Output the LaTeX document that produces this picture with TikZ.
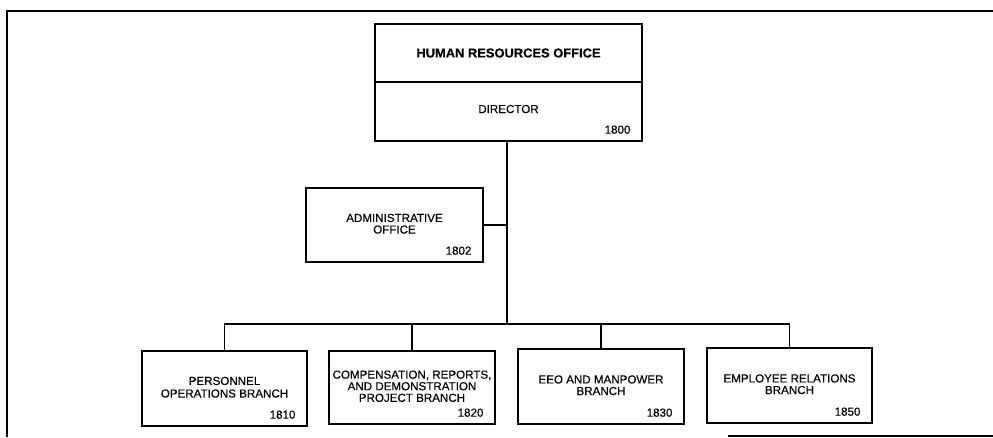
\documentclass[tikz,border=0pt]{standalone}
\usepackage{fontspec}
\setmainfont{Liberation Sans}[FakeBold=0.35]
\newfontfamily\lblfont{Liberation Sans}[AutoFakeBold=0.35,UprightFeatures={FakeBold=0.35}]
\begin{document}
\begin{tikzpicture}[x=1pt,y=-1pt,
  box/.style={draw,line width=1.3pt,rectangle,inner sep=0pt,align=center,
    font=\fontsize{11.6}{13.6}\selectfont},
  num/.style={anchor=base east,inner sep=0pt,font=\fontsize{11.6}{13.6}\selectfont,
    xshift=-12pt,yshift=8pt},
  conn/.style={line width=1.3pt},
  frame/.style={line width=2.6pt}]
\useasboundingbox (0,0) rectangle (993,437);
% frame
\draw[frame] (7,437) -- (7,11) -- (994,11);
\draw[frame] (728,436) -- (994,436);
% top boxes
\node[box,minimum width=267pt,minimum height=58pt,font=\bfseries\fontsize{12.9}{14}\selectfont] (hro) at (508.5,53) {HUMAN RESOURCES OFFICE};
\node[box,minimum width=267pt,minimum height=59pt] (dir) at (508.5,111.5) {\raisebox{5pt}{DIRECTOR}};
\node[num] (n1800) at (dir.south east) {1800};
% admin
\node[box,minimum width=177pt,minimum height=74pt] (adm) at (394.5,225) {\raisebox{4pt}{\begin{tabular}{@{}c@{}}ADMINISTRATIVE\\[-2pt]OFFICE\end{tabular}}};
\node[num] (n1802) at (adm.south east) {1802};
% branches
\node[box,minimum width=165pt,minimum height=75pt] (b1) at (224.5,388.5) {\raisebox{4pt}{\begin{tabular}{@{}c@{}}PERSONNEL\\[-1pt]OPERATIONS BRANCH\end{tabular}}};
\node[num] (n1810) at (b1.south east) {1810};
\node[box,minimum width=166pt,minimum height=73pt] (b2) at (412,387.5) {\raisebox{5pt}{\begin{tabular}{@{}c@{}}COMPENSATION, REPORTS,\\[-2pt]AND DEMONSTRATION\\[-2pt]PROJECT BRANCH\end{tabular}}};
\node[num] (n1820) at (b2.south east) {1820};
\node[box,minimum width=166pt,minimum height=75pt] (b3) at (601,386.5) {\raisebox{4pt}{\begin{tabular}{@{}c@{}}EEO AND MANPOWER\\[-2pt]BRANCH\end{tabular}}};
\node[num] (n1830) at (b3.south east) {1830};
\node[box,minimum width=165pt,minimum height=75pt] (b4) at (789.5,385.5) {\raisebox{4pt}{\begin{tabular}{@{}c@{}}EMPLOYEE RELATIONS\\[-2pt]BRANCH\end{tabular}}};
\node[num] (n1850) at (b4.south east) {1850};
% connectors
\coordinate (j) at (507,324);
\draw[conn] (dir.south -| j) -- (j);
\draw[conn] (adm.east) -- (adm.east -| j);
\draw[conn] (b1.north) |- (b4.north |- j) -- (b4.north);
\draw[conn] (b2.north) -- (b2.north |- j);
\draw[conn] (b3.north) -- (b3.north |- j);
\end{tikzpicture}
\end{document}
